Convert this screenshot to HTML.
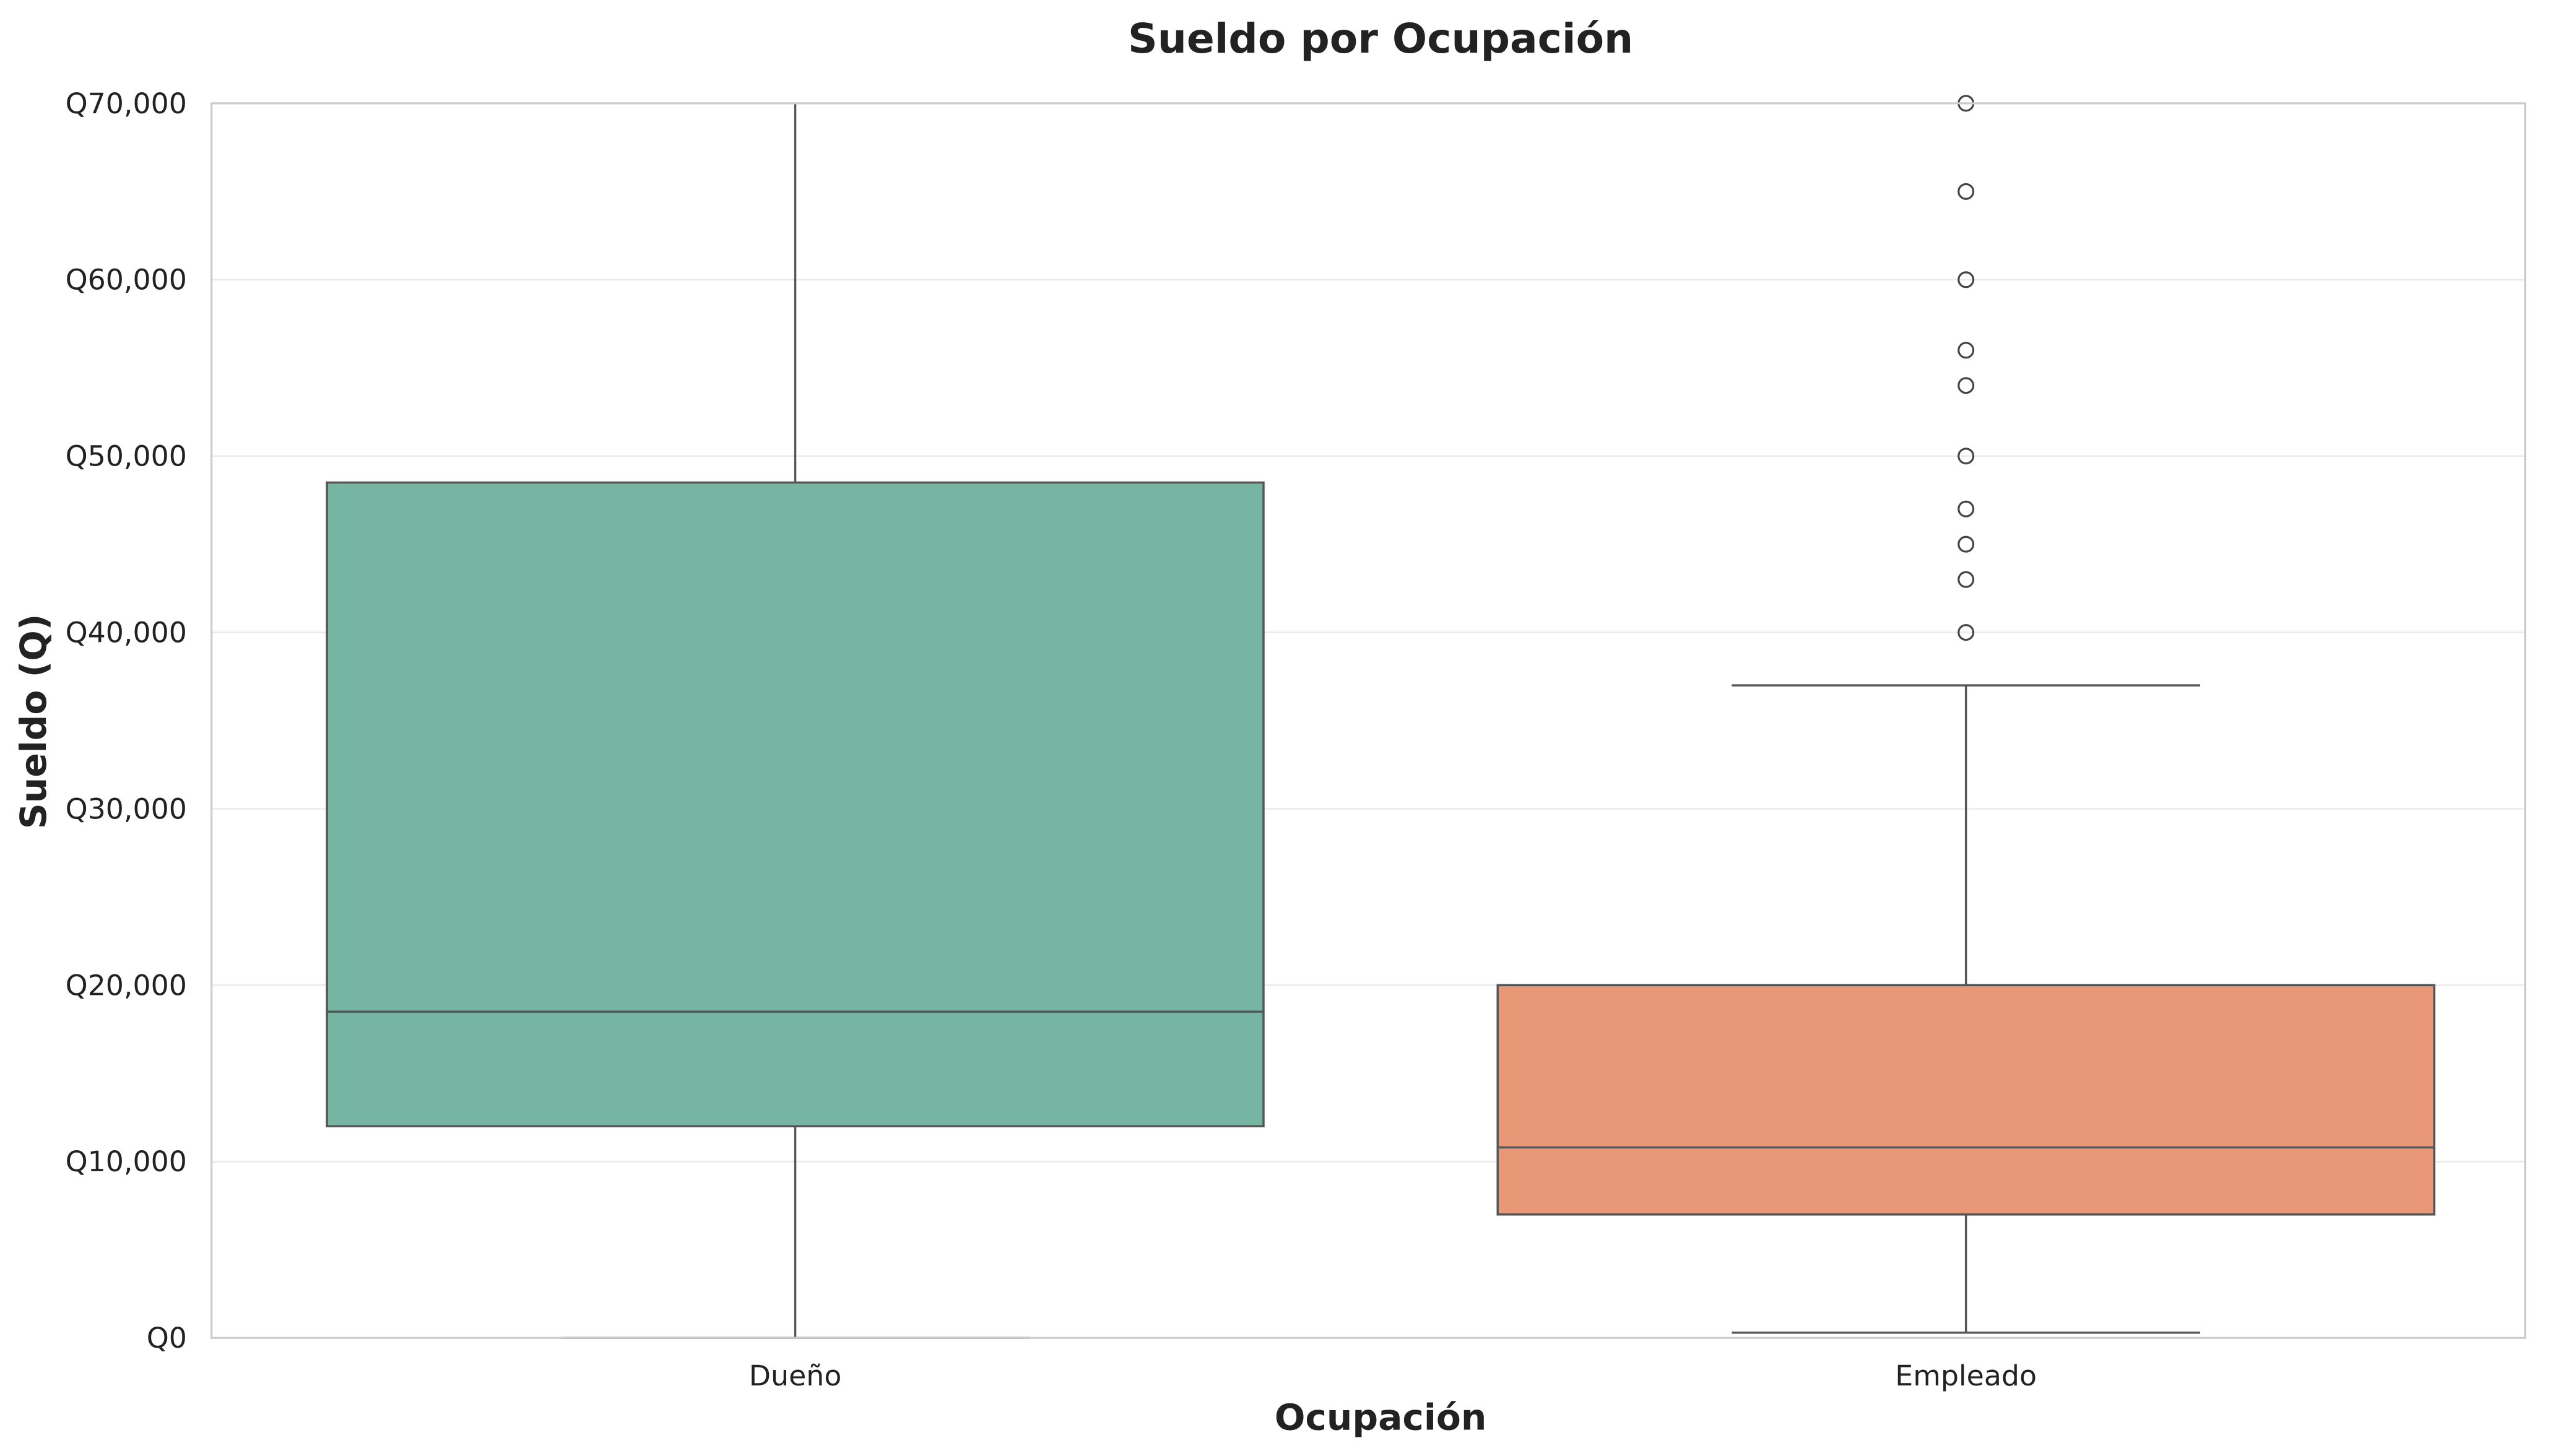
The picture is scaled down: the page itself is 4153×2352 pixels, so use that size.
<!DOCTYPE html>
<html><head><meta charset="utf-8"><style>
html,body{margin:0;padding:0;background:#fff;}
svg{display:block;font-family:"DejaVu Sans","Liberation Sans",sans-serif;}
</style></head><body>
<svg id="chart" width="4153" height="2352" viewBox="0 0 1568 888" xmlns="http://www.w3.org/2000/svg">
<rect width="1568" height="888" fill="#fff"/>
<text x="842" y="32" text-anchor="middle" font-size="25" font-weight="bold" fill="#222">Sueldo por Ocupación</text>
<text x="842" y="872" text-anchor="middle" font-size="22" font-weight="bold" fill="#222">Ocupación</text>
<text transform="translate(28,440) rotate(-90)" text-anchor="middle" font-size="22" font-weight="bold" fill="#222">Sueldo (Q)</text>
<g id="grid"></g>
<g id="marks"></g>
<rect x="129" y="63" width="1411" height="753" fill="none" stroke="#ccc" stroke-width="1.2"/>
<g id="labels"></g>
</svg>
<script>
const categories = ["Dueño", "Empleado"];
const q1 = [12000, 7000];
const medians = [18500, 10800];
const q3 = [48500, 20000];
const whiskLow = [0, 300];
const whiskHigh = [72000, 37000];
const outliersEmpleado = [40000, 43000, 45000, 47000, 50000, 54000, 56000, 60000, 65000, 70000];
const yTicks = [0, 10000, 20000, 30000, 40000, 50000, 60000, 70000];
const colors = ["#76b5a2", "#e99877"];

const NS = "http://www.w3.org/2000/svg";
const L = 129, R = 1540, T = 63, B = 816, YMAX = 70000;
const y = v => B - (v / YMAX) * (B - T);
const band = 714;
const xc = i => 485 + band * i;
const boxW = band * 0.8;
function mk(tag, attrs, parent) {
  const e = document.createElementNS(NS, tag);
  for (const k in attrs) e.setAttribute(k, attrs[k]);
  parent.appendChild(e);
  return e;
}
const grid = document.getElementById("grid"), marks = document.getElementById("marks"), labels = document.getElementById("labels");
yTicks.forEach(t => {
  const g = mk("line", {x1: L, x2: R, y1: y(t), y2: y(t), stroke: "#ebebeb", "stroke-width": 1}, grid);
  
  
  const tx = mk("text", {x: 114, y: y(t) + 6, "text-anchor": "end", "font-size": 17.3, fill: "#222"}, labels);
  tx.textContent = "Q" + t.toLocaleString("en-US");
  
  
});
const st = {stroke: "#555", "stroke-width": 1.3, fill: "none"};
categories.forEach((c, i) => {
  const cx = xc(i);
  const top = Math.max(y(whiskHigh[i]), T);
  const wu = mk("line", Object.assign({x1: cx, x2: cx, y1: y(q3[i]), y2: top}, st), marks);
  
  
  const wl = mk("line", Object.assign({x1: cx, x2: cx, y1: y(q1[i]), y2: y(whiskLow[i])}, st), marks);
  
  
  const cl = mk("line", Object.assign({x1: cx - boxW / 4, x2: cx + boxW / 4, y1: y(whiskLow[i]), y2: y(whiskLow[i])}, st), marks);
  
  
  if (whiskHigh[i] <= YMAX) {
    const cu = mk("line", Object.assign({x1: cx - boxW / 4, x2: cx + boxW / 4, y1: y(whiskHigh[i]), y2: y(whiskHigh[i])}, st), marks);
    
    
  }
  const b = mk("rect", {x: cx - boxW / 2, y: y(q3[i]), width: boxW, height: y(q1[i]) - y(q3[i]), fill: colors[i], stroke: "#555", "stroke-width": 1.3}, marks);
  
  
  const m = mk("line", Object.assign({x1: cx - boxW / 2, x2: cx + boxW / 2, y1: y(medians[i]), y2: y(medians[i])}, st), marks);
  
  
  const tx = mk("text", {x: cx, y: 845, "text-anchor": "middle", "font-size": 17.3, fill: "#222"}, labels);
  tx.textContent = c;
  
  
});
outliersEmpleado.forEach(v => {
  const o = mk("circle", {cx: xc(1), cy: y(v), r: 4.5, fill: "none", stroke: "#444", "stroke-width": 1.2}, marks);
  
  
});
</script>
</body></html>
